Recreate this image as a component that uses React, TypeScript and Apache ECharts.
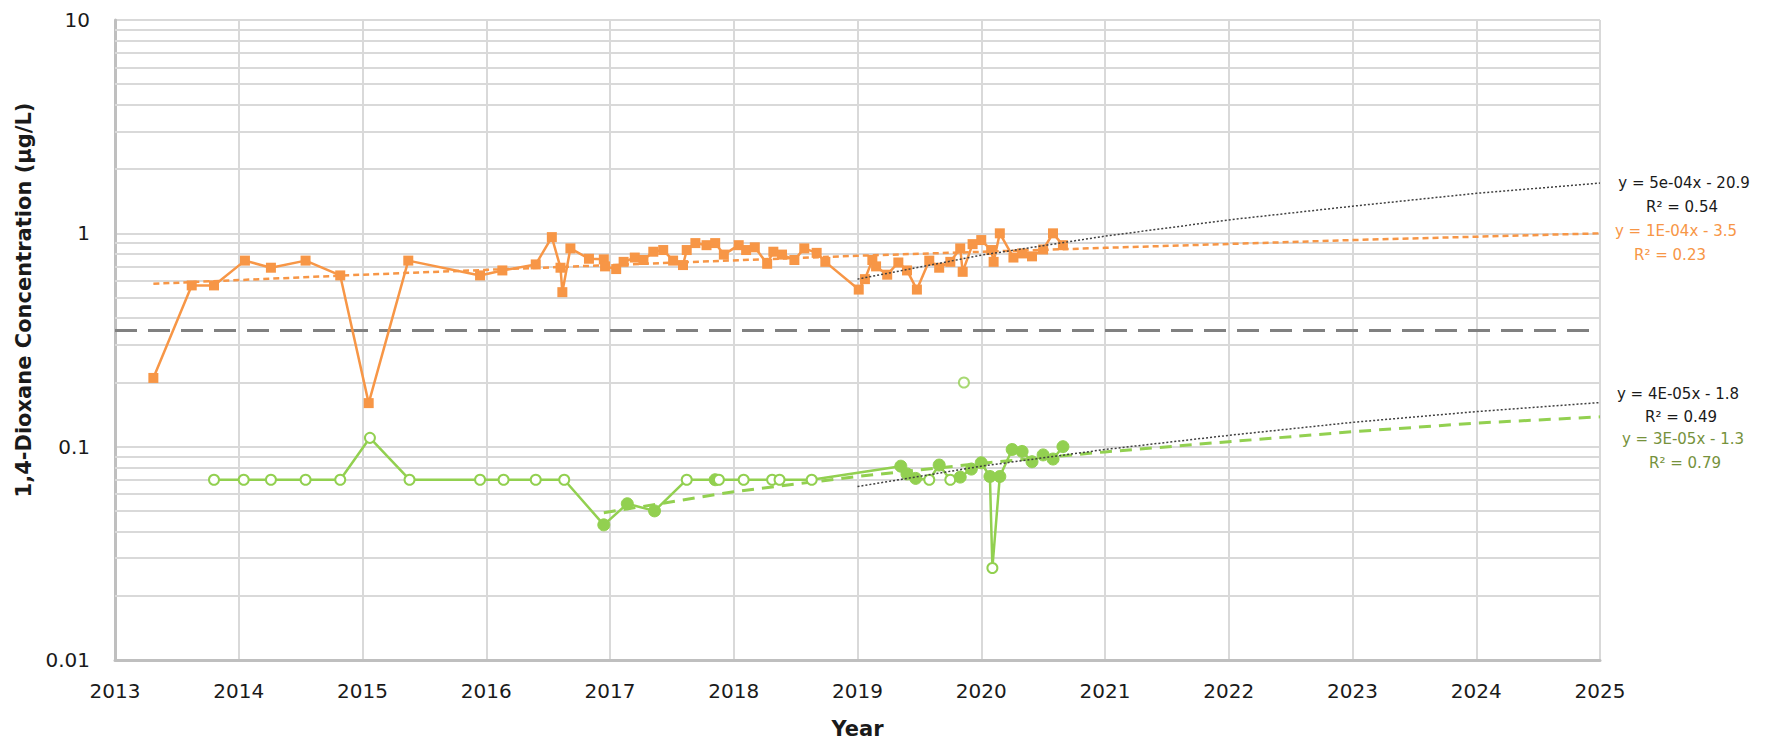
import React, { useEffect, useRef } from "react";
import * as echarts from "echarts";

const FONT = "DejaVu Sans";
const ORANGE = "#F79646";
const GREEN = "#92D050";
const OLIVE = "#76923C";

// Orange series (sampling date as decimal year, concentration µg/L)
const orangeYears = [
  2013.31, 2013.62, 2013.8, 2014.05, 2014.26, 2014.54, 2014.82, 2015.05, 2015.37, 2015.95,
  2016.13, 2016.4, 2016.53, 2016.6, 2016.615, 2016.68, 2016.83, 2016.95, 2016.96, 2017.05,
  2017.11, 2017.2, 2017.27, 2017.35, 2017.43, 2017.51, 2017.59, 2017.62, 2017.69, 2017.78,
  2017.85, 2017.92, 2018.04, 2018.1, 2018.17, 2018.27, 2018.32, 2018.39, 2018.49, 2018.57,
  2018.67, 2018.74, 2019.01, 2019.06, 2019.12, 2019.15, 2019.24, 2019.33, 2019.4, 2019.48,
  2019.58, 2019.66, 2019.75, 2019.83, 2019.85, 2019.93, 2020.0, 2020.08, 2020.1, 2020.15,
  2020.26, 2020.33, 2020.41, 2020.5, 2020.58, 2020.66,
];
const orangeValues = [
  0.21, 0.57, 0.57, 0.745, 0.69, 0.745, 0.635, 0.16, 0.745, 0.635,
  0.67, 0.715, 0.96, 0.69, 0.53, 0.85, 0.76, 0.755, 0.7, 0.68,
  0.735, 0.77, 0.75, 0.82, 0.835, 0.745, 0.71, 0.835, 0.9, 0.88,
  0.9, 0.795, 0.88, 0.835, 0.86, 0.72, 0.82, 0.795, 0.75, 0.85,
  0.81, 0.735, 0.545, 0.61, 0.75, 0.7, 0.64, 0.73, 0.67, 0.545,
  0.745, 0.69, 0.735, 0.85, 0.66, 0.89, 0.93, 0.835, 0.735, 1.0,
  0.77, 0.805, 0.78, 0.84, 1.0, 0.88,
];

// Green series; detected = false drawn as open circles
const greenYears = [
  2013.8, 2014.04, 2014.26, 2014.54, 2014.82, 2015.06, 2015.38, 2015.95, 2016.14, 2016.4,
  2016.63, 2016.95, 2017.14, 2017.36, 2017.62, 2017.85, 2017.88, 2018.08, 2018.31, 2018.37,
  2018.63, 2019.35, 2019.4, 2019.47, 2019.58, 2019.66, 2019.75, 2019.83, 2019.92, 2020.0,
  2020.07, 2020.09, 2020.15, 2020.25, 2020.33, 2020.41, 2020.5, 2020.58, 2020.66,
];
const greenValues = [
  0.07, 0.07, 0.07, 0.07, 0.07, 0.11, 0.07, 0.07, 0.07, 0.07,
  0.07, 0.043, 0.054, 0.05, 0.07, 0.07, 0.07, 0.07, 0.07, 0.07,
  0.07, 0.081, 0.0745, 0.071, 0.07, 0.082, 0.07, 0.072, 0.0785, 0.084,
  0.0725, 0.027, 0.0725, 0.097, 0.095, 0.085, 0.0915, 0.0875, 0.1,
];
const greenDetected = [
  false, false, false, false, false, false, false, false, false, false,
  false, true, true, true, false, true, false, false, false, false,
  false, true, true, true, false, true, false, true, true, true,
  true, false, true, true, true, true, true, true, true,
];
// isolated non-detect
const greenExtraYears = [2019.86];
const greenExtraValues = [0.2];

// Trend lines (values read at the grid years)
const orangeTrendYears = [2013.31, 2015, 2017, 2019, 2021, 2023, 2025];
const orangeTrendValues = [0.58, 0.64, 0.71, 0.785, 0.855, 0.93, 1.0];
const orangeRecentTrendYears = [2019, 2020, 2021, 2022, 2023, 2024, 2025];
const orangeRecentTrendValues = [0.61, 0.79, 0.97, 1.156, 1.34, 1.54, 1.72];
const greenTrendYears = [2016.95, 2018, 2019, 2020, 2021, 2022, 2023, 2024, 2025];
const greenTrendValues = [0.049, 0.0615, 0.0725, 0.0835, 0.0945, 0.1055, 0.1175, 0.129, 0.138];
const greenRecentTrendYears = [2019, 2020, 2021, 2022, 2023, 2024, 2025];
const greenRecentTrendValues = [0.065, 0.081, 0.097, 0.113, 0.13, 0.146, 0.161];

const referenceLevel = 0.35;
const minorGridValues = [
  0.02, 0.03, 0.04, 0.05, 0.06, 0.07, 0.08, 0.09,
  0.2, 0.3, 0.4, 0.5, 0.6, 0.7, 0.8, 0.9,
  2, 3, 4, 5, 6, 7, 8, 9,
];
const yTickValues = [0.01, 0.1, 1, 10];
const yTickLabels = ["0.01", "0.1", "1", "10"];

const annotations = [
  { text: "y = 5e-04x - 20.9", x: 1684, y: 183, color: "#1a1a1a" },
  { text: "R² = 0.54", x: 1682, y: 207, color: "#1a1a1a" },
  { text: "y = 1E-04x - 3.5", x: 1676, y: 231, color: ORANGE },
  { text: "R² = 0.23", x: 1670, y: 255, color: ORANGE },
  { text: "y = 4E-05x - 1.8", x: 1678, y: 394, color: "#1a1a1a" },
  { text: "R² = 0.49", x: 1681, y: 417, color: "#1a1a1a" },
  { text: "y = 3E-05x - 1.3", x: 1683, y: 439, color: OLIVE },
  { text: "R² = 0.79", x: 1685, y: 463, color: OLIVE },
];

const zip = (xs: number[], ys: number[]) => xs.map((x, i) => [x, ys[i]]);

export default function App() {
  const ref = useRef<HTMLDivElement>(null);
  useEffect(() => {
    if (!ref.current) return;
    const chart = echarts.init(ref.current, null, { renderer: "svg" });
    const option: any = {
      animation: false,
      backgroundColor: "#ffffff",
      textStyle: { fontFamily: FONT },
      grid: { left: 115, right: 185, top: 20, bottom: 84, containLabel: false },
      xAxis: {
        type: "value",
        min: 2013,
        max: 2025,
        interval: 1,
        name: "Year",
        nameLocation: "middle",
        nameGap: 58,
        nameTextStyle: { fontFamily: FONT, fontWeight: "bold", fontSize: 21, color: "#1a1a1a" },
        axisLine: { show: true, lineStyle: { color: "#bfbfbf", width: 3 } },
        axisTick: { show: false },
        axisLabel: {
          fontFamily: FONT,
          fontSize: 20,
          color: "#1a1a1a",
          margin: 21,
          formatter: (v: number) => String(Math.round(v)),
        },
        splitLine: { show: true, lineStyle: { color: "#d9d9d9", width: 2 } },
      },
      yAxis: {
        type: "log",
        logBase: 10,
        min: 0.01,
        max: 10,
        axisLine: { show: true, lineStyle: { color: "#bfbfbf", width: 3 } },
        axisTick: { show: false },
        axisLabel: {
          fontFamily: FONT,
          fontSize: 20,
          color: "#1a1a1a",
          margin: 25,
          formatter: (v: number) => {
            const i = yTickValues.findIndex((t) => Math.abs(Math.log10(t) - Math.log10(v)) < 1e-6);
            return i >= 0 ? yTickLabels[i] : "";
          },
        },
        splitLine: { show: true, lineStyle: { color: "#d9d9d9", width: 2 } },
      },
      graphic: [
        {
          type: "text",
          x: 24,
          y: 300,
          rotation: Math.PI / 2,
          style: {
            text: "1,4-Dioxane Concentration (µg/L)",
            font: `bold 21px "${FONT}"`,
            fill: "#1a1a1a",
            align: "center",
            verticalAlign: "middle",
          },
        },
        ...annotations.map((a) => ({
          type: "text",
          x: a.x,
          y: a.y,
          style: {
            text: a.text,
            font: `15px "${FONT}"`,
            fill: a.color,
            align: "center",
            verticalAlign: "middle",
          },
        })),
      ],
      series: [
        {
          name: "minor grid",
          type: "line",
          data: [],
          silent: true,
          markLine: {
            z: 1,
            silent: true,
            symbol: ["none", "none"],
            label: { show: false },
            lineStyle: { color: "#d9d9d9", width: 2, type: "solid" },
            data: minorGridValues.map((v) => ({ yAxis: v })),
          },
        },
        {
          name: "reference",
          type: "line",
          data: [],
          silent: true,
          markLine: {
            z: 1,
            silent: true,
            symbol: ["none", "none"],
            label: { show: false },
            lineStyle: { color: "#808080", width: 3, type: [22, 11] },
            data: [{ yAxis: referenceLevel }],
          },
        },
        {
          name: "orange trend",
          type: "line",
          data: zip(orangeTrendYears, orangeTrendValues),
          showSymbol: false,
          symbol: "none",
          z: 2,
          lineStyle: { color: ORANGE, width: 2.5, type: [6, 4] },
        },
        {
          name: "green trend",
          type: "line",
          data: zip(greenTrendYears, greenTrendValues),
          showSymbol: false,
          symbol: "none",
          z: 2,
          lineStyle: { color: GREEN, width: 3, type: [12, 8] },
        },
        {
          name: "orange",
          type: "line",
          data: zip(orangeYears, orangeValues),
          symbol: "rect",
          symbolSize: 10,
          z: 3,
          lineStyle: { color: ORANGE, width: 2.5 },
          itemStyle: { color: ORANGE },
        },
        {
          name: "green",
          type: "line",
          data: greenYears.map((x, i) => ({
            value: [x, greenValues[i]],
            symbolSize: greenDetected[i] ? 12 : 10,
            itemStyle: greenDetected[i]
              ? { color: GREEN, borderColor: GREEN, borderWidth: 1 }
              : { color: "#ffffff", borderColor: GREEN, borderWidth: 2 },
          })),
          symbol: "circle",
          z: 3,
          lineStyle: { color: GREEN, width: 2.5 },
          itemStyle: { color: GREEN },
        },
        {
          name: "green extra",
          type: "scatter",
          data: zip(greenExtraYears, greenExtraValues),
          symbol: "circle",
          symbolSize: 10,
          z: 3,
          itemStyle: { color: "#ffffff", borderColor: GREEN, borderWidth: 2 },
        },
        {
          name: "orange recent trend",
          type: "line",
          data: zip(orangeRecentTrendYears, orangeRecentTrendValues),
          showSymbol: false,
          symbol: "none",
          z: 4,
          lineStyle: { color: "#404040", width: 1.5, type: [2, 2] },
        },
        {
          name: "green recent trend",
          type: "line",
          data: zip(greenRecentTrendYears, greenRecentTrendValues),
          showSymbol: false,
          symbol: "none",
          z: 4,
          lineStyle: { color: "#404040", width: 1.5, type: [2, 2] },
        },
      ],
    };
    chart.setOption(option);
    return () => chart.dispose();
  }, []);
  return (
    <div
      ref={ref}
      style={{ position: "fixed", left: 0, top: 0, width: 1785, height: 744, background: "#fff" }}
    />
  );
}
